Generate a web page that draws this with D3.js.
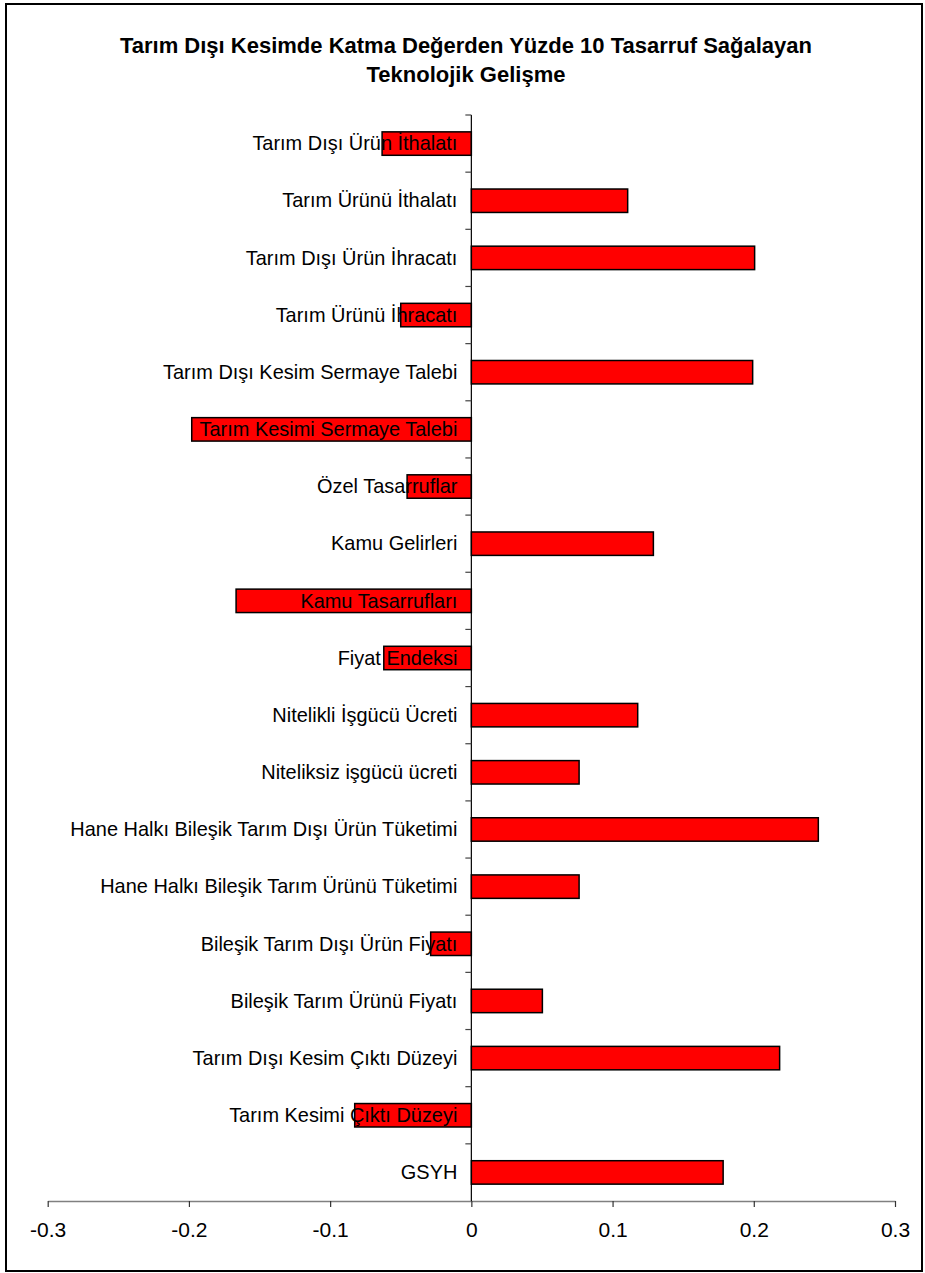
<!DOCTYPE html>
<html>
<head>
<meta charset="utf-8">
<script src="https://cdn.jsdelivr.net/npm/d3@7"></script>
<style>
  html, body { margin: 0; padding: 0; background: #fff; }
  svg { display: block; font-family: "Liberation Sans", Arial, sans-serif; }
</style>
</head>
<body>
<svg id="chart" width="925" height="1273"></svg>
<script>
const titleLines = [
  "Tarım Dışı Kesimde Katma Değerden Yüzde 10 Tasarruf Sağalayan",
  "Teknolojik Gelişme"
];
const categories = [
  "Tarım Dışı Ürün İthalatı",
  "Tarım Ürünü İthalatı",
  "Tarım Dışı Ürün İhracatı",
  "Tarım Ürünü İhracatı",
  "Tarım Dışı Kesim Sermaye Talebi",
  "Tarım Kesimi Sermaye Talebi",
  "Özel Tasarruflar",
  "Kamu Gelirleri",
  "Kamu Tasarrufları",
  "Fiyat Endeksi",
  "Nitelikli İşgücü Ücreti",
  "Niteliksiz işgücü ücreti",
  "Hane Halkı Bileşik Tarım Dışı Ürün Tüketimi",
  "Hane Halkı Bileşik Tarım Ürünü Tüketimi",
  "Bileşik Tarım Dışı Ürün Fiyatı",
  "Bileşik Tarım Ürünü Fiyatı",
  "Tarım Dışı Kesim Çıktı Düzeyi",
  "Tarım Kesimi Çıktı Düzeyi",
  "GSYH"
];
const values = [
  -0.0632, 0.1107, 0.2006, -0.0500, 0.1992, -0.1980, -0.0455, 0.1289, -0.1666, -0.0620,
  0.1178, 0.0763, 0.2457, 0.0763, -0.0288, 0.0503, 0.2183, -0.0826, 0.1783
];
const xTicks = [-0.3, -0.2, -0.1, 0, 0.1, 0.2, 0.3];

const svg = d3.select("#chart");

// outer frame
svg.append("rect")
  .attr("x", 6).attr("y", 4).attr("width", 916).attr("height", 1267)
  .attr("fill", "#fff").attr("stroke", "#000").attr("stroke-width", 2);

// title
svg.append("g").selectAll("text").data(titleLines).join("text")
  .attr("x", 466)
  .attr("y", (d, i) => 53 + i * 29)
  .attr("text-anchor", "middle")
  .attr("font-size", 22)
  .attr("font-weight", "bold")
  .attr("fill", "#000")
  .text(d => d);

const plot = { left: 47.7, right: 895, top: 115, bottom: 1201 };

const x = d3.scaleLinear().domain([-0.3, 0.3]).range([plot.left, plot.right]);
const pInner = 0.59;
const y = d3.scaleBand().domain(categories).range([plot.top, plot.bottom])
  .paddingInner(pInner).paddingOuter(pInner / 2);

// category boundary scale for the y-axis ticks
const yEdge = d3.scaleLinear().domain([0, categories.length]).range([plot.top, plot.bottom]);

// x axis
const xAxis = svg.append("g")
  .attr("transform", `translate(0,${plot.bottom})`)
  .call(d3.axisBottom(x).tickValues(xTicks).tickSize(6).tickPadding(15)
    .tickSizeOuter(0)
    .tickFormat(d => d === 0 ? "0" : d.toFixed(1)));
xAxis.select(".domain").attr("stroke", "#808080").attr("stroke-width", 1.5);
xAxis.selectAll(".tick line").attr("stroke", "#333").attr("stroke-width", 1.2);
xAxis.selectAll(".tick text").attr("font-size", 21).attr("fill", "#000")
  .attr("font-family", "Liberation Sans, Arial, sans-serif");

// bars
svg.append("g").selectAll("rect").data(values).join("rect")
  .attr("x", d => x(Math.min(0, d)))
  .attr("y", (d, i) => y(categories[i]))
  .attr("width", d => Math.abs(x(d) - x(0)))
  .attr("height", y.bandwidth())
  .attr("fill", "#ff0000")
  .attr("stroke", "#000")
  .attr("stroke-width", 1.5);

// y axis line and boundary ticks
const yAxisG = svg.append("g");
yAxisG.append("line")
  .attr("x1", x(0)).attr("x2", x(0))
  .attr("y1", plot.top).attr("y2", plot.bottom)
  .attr("stroke", "#000").attr("stroke-width", 1.2);
yAxisG.selectAll("line.tk").data(d3.range(categories.length)).join("line")
  .attr("class", "tk")
  .attr("x1", x(0) - 6).attr("x2", x(0))
  .attr("y1", d => yEdge(d)).attr("y2", d => yEdge(d))
  .attr("stroke", "#444").attr("stroke-width", 1.2);

// category labels (drawn on top of bars), slightly condensed
const yAxis = svg.append("g")
  .attr("transform", `translate(${x(0)},0)`)
  .call(d3.axisLeft(y).tickSize(0).tickPadding(14));
yAxis.select(".domain").remove();
yAxis.selectAll(".tick text")
  .attr("font-size", 21).attr("fill", "#000")
  .attr("font-family", "Liberation Sans, Arial, sans-serif")
  .attr("x", -14 / 0.95)
  .attr("transform", "scale(0.95,1)");
</script>
</body>
</html>
